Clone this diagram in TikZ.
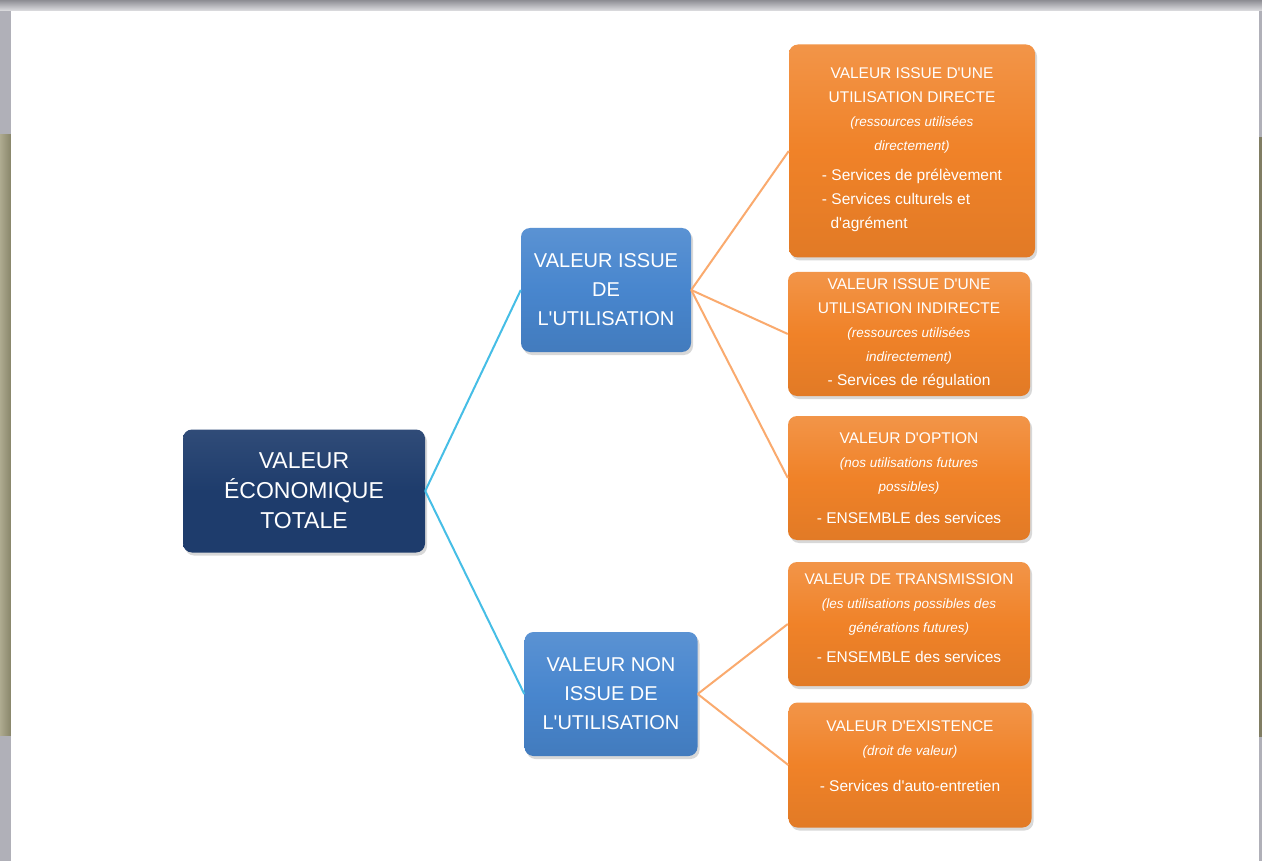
\documentclass[tikz,border=0pt]{standalone}
\usepackage{fontspec}
\setmainfont{Liberation Sans}[Ligatures=TeXOff]
\usetikzlibrary{shadows}
\definecolor{navybox}{RGB}{30,60,108}
\definecolor{bluebox}{RGB}{72,134,206}
\definecolor{orangebox}{RGB}{240,130,40}
\definecolor{cyanline}{RGB}{70,190,230}
\definecolor{orangeline}{RGB}{250,170,110}
\definecolor{khaki}{RGB}{160,156,124}
\definecolor{framegray}{RGB}{176,176,184}
\newcommand{\itl}[1]{{\fontsize{13.5}{22}\selectfont\itshape #1}}

\begin{document}
\begin{tikzpicture}[x=1pt,y=-1pt,
  box/.style={rounded corners=9pt,text=white,align=center,inner sep=2pt,
    drop shadow={shadow xshift=2pt,shadow yshift=-3pt,opacity=.3}},
  rootbox/.style={box,top color=navybox!92!white,bottom color=navybox,middle color=navybox,
    minimum width=242,minimum height=123,font=\fontsize{23}{30}\selectfont},
  usebox/.style={box,top color=bluebox!90!white,bottom color=bluebox!92!black,middle color=bluebox,
    minimum width=170,minimum height=124,font=\fontsize{20}{29}\selectfont},
  valbox/.style={box,top color=orangebox!85!white,bottom color=orangebox!94!black,middle color=orangebox,
    minimum width=242,minimum height=124,font=\fontsize{15.5}{24}\selectfont},
  link/.style={line width=2pt,cyanline},
  sublink/.style={line width=2pt,orangeline}]
\useasboundingbox (0,0) rectangle (1262,861);
\fill[framegray] (0,0) rectangle (1262,861);
\shade[top color=framegray!80!black,bottom color=framegray!40!white] (0,0) rectangle (1262,11);
\shade[left color=khaki!85!white,right color=khaki!85!black] (0,135) rectangle (11,735);
\fill[khaki!80!black] (1259,137) rectangle (1262,737);
\fill[white] (11,11) rectangle (1259,861);

\node[rootbox] (total) at (304,491) {VALEUR\\ÉCONOMIQUE\\TOTALE};
\node[usebox] (use) at (606,290) {VALEUR ISSUE\\DE\\L'UTILISATION};
\node[usebox,minimum width=173] (nonuse) at (611,694) {VALEUR NON\\ISSUE DE\\L'UTILISATION};

\node[valbox,minimum width=246,minimum height=213] (direct) at (912,151) {VALEUR ISSUE D'UNE\\UTILISATION DIRECTE\\\itl{(ressources utilisées}\\\itl{directement)}\\[10pt]
  \begin{tabular}{@{}l@{}}- Services de prélèvement\\- Services culturels et\\\ \ d'agrément\end{tabular}\\[-2pt]\ };
\node[valbox] (indirect) at (909,334) {VALEUR ISSUE D'UNE\\UTILISATION INDIRECTE\\\itl{(ressources utilisées}\\\itl{indirectement)}\\- Services de régulation};
\node[valbox] (option) at (909,478) {VALEUR D'OPTION\\\itl{(nos utilisations futures}\\\itl{possibles)}\\[8pt]- ENSEMBLE des services};
\node[valbox] (transmit) at (909,624) {VALEUR DE TRANSMISSION\\\itl{(les utilisations possibles des}\\\itl{générations futures)}\\[6pt]- ENSEMBLE des services\\[-12pt]\ };
\node[valbox,minimum width=243,minimum height=125] (exist) at (910,765) {VALEUR D'EXISTENCE\\\itl{(droit de valeur)}\\[12pt]- Services d'auto-entretien\\[-6pt]\ };

\draw[link] (total.east) -- (use.west);\draw[link] (total.east) -- (nonuse.west);
\foreach \v in {direct,indirect,option}{\draw[sublink] (use.east) -- (\v.west);}
\foreach \v in {transmit,exist}{\draw[sublink] (nonuse.east) -- (\v.west);}
\end{tikzpicture}
\end{document}
